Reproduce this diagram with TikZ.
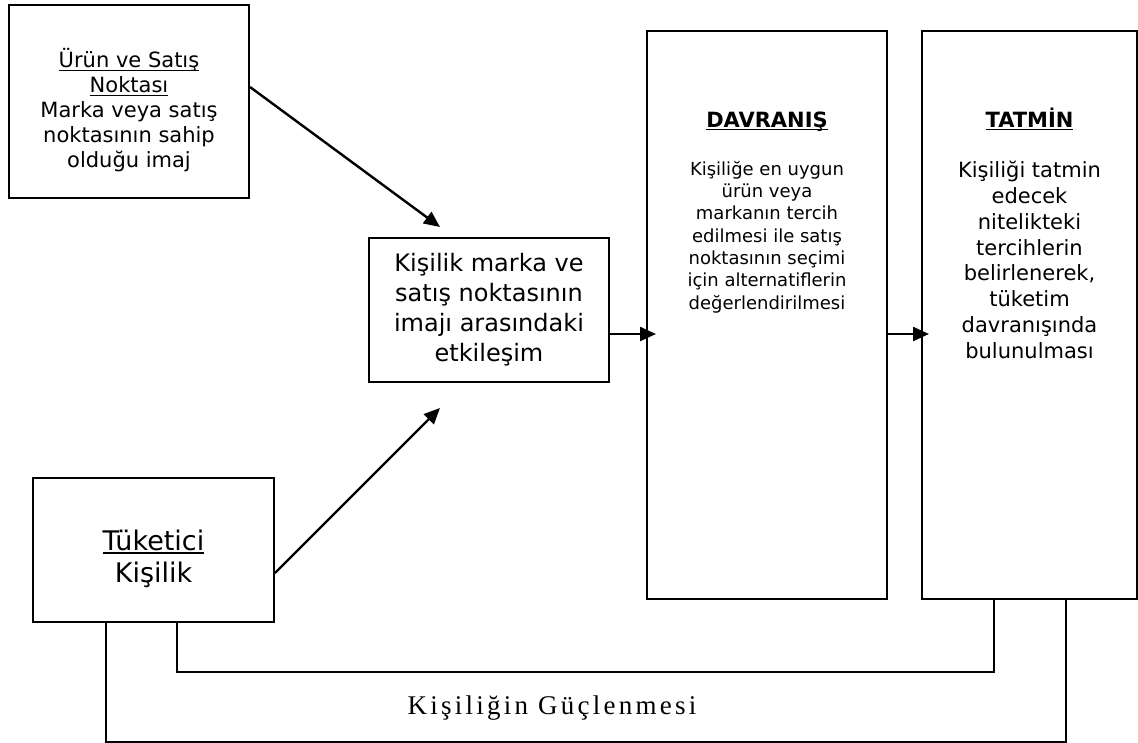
\documentclass[tikz,border=0pt]{standalone}
\usepackage{fontspec}
\setmainfont{DejaVu Sans}
\newfontfamily\loopfont[LetterSpace=12]{Liberation Serif}
\usetikzlibrary{arrows.meta, positioning, calc}

% underline at a fixed depth below the baseline
\newcommand{\ulin}[1]{\leavevmode\setbox0=\hbox{#1}\rlap{\rule[-3.2pt]{\wd0}{1.5pt}}\box0}

\begin{document}
\begin{tikzpicture}[x=1pt, y=-1pt,
    box/.style={draw=black, line width=2pt, fill=white, rectangle, inner sep=0pt},
    txt/.style={align=center, inner sep=0pt},
    flow/.style={->, line width=2.4pt},
    loopline/.style={line width=2pt},
    >={Triangle[length=16pt, width=14pt]}]
    \useasboundingbox (0,0) rectangle (1138,742);

    % Boxes on the left and in the middle
    \node[box, minimum width=240pt, minimum height=193pt] (prod) at (129,101.5) {};
    \node[txt, font=\fontsize{21}{25}\selectfont] (prodtxt) at ([yshift=-9pt]prod.center)
        {\ulin{Ürün ve Satış}\\\ulin{Noktası}\\Marka veya satış\\noktasının sahip\\olduğu imaj};
    \node[box, align=center, minimum width=240pt, minimum height=144pt, font=\fontsize{24}{30}\selectfont] (inter) at (489,310)
        {Kişilik marka ve\\satış noktasının\\imajı arasındaki\\etkileşim};
    \node[box, minimum width=241pt, minimum height=144pt] (cons) at (153.5,550) {};
    \node[txt, font=\fontsize{27}{32}\selectfont] (constxt) at ([yshift=-9pt]cons.center)
        {\ulin{Tüketici}\\Kişilik};

    % Tall boxes on the right
    \node[box, minimum width=240pt, minimum height=568pt] (behav) at (767,315) {};
    \node[box, minimum width=215pt, minimum height=568pt] (sat) at (1029.5,315) {};

    \node[font=\fontsize{21}{25}\selectfont\bfseries, anchor=base] (behavhead) at ([yshift=-97pt]behav.north) {\ulin{DAVRANIŞ}};
    \node[txt, font=\fontsize{18}{22.3}\selectfont, anchor=north] (behavtxt) at ([yshift=-131pt]behav.north)
        {Kişiliğe en uygun\\ürün veya\\markanın tercih\\edilmesi ile satış\\noktasının seçimi\\için alternatiflerin\\değerlendirilmesi};
    \node[font=\fontsize{21}{25}\selectfont\bfseries, anchor=base] (sathead) at ([yshift=-97pt]sat.north) {\ulin{TATMİN}};
    \node[txt, font=\fontsize{21}{25.8}\selectfont, anchor=north] (sattxt) at ([yshift=-131pt]sat.north)
        {Kişiliği tatmin\\edecek\\nitelikteki\\tercihlerin\\belirlenerek,\\tüketim\\davranışında\\bulunulması};

    % Arrows
    \draw[flow] ([yshift=14.5pt]prod.east) -- ([xshift=-49pt, yshift=10pt]inter.north);
    \draw[flow] ([yshift=-23pt]cons.east) -- ([xshift=-49pt, yshift=-25pt]inter.south);
    \draw[flow] ([yshift=-24pt]inter.east) -- ([xshift=10pt, yshift=-19pt]behav.west);
    \draw[flow] ([yshift=-19pt]behav.east) -- ([xshift=8pt, yshift=-19pt]sat.west);

    % Feedback lines
    \draw[loopline] ([xshift=23.5pt]cons.south) |- ([xshift=-35.5pt, yshift=-72pt]sat.south) -- ([xshift=-35.5pt]sat.south);
    \draw[loopline] ([xshift=-47.5pt]cons.south) |- ([xshift=36.5pt, yshift=-142pt]sat.south) -- ([xshift=36.5pt]sat.south);
    \node[font={\fontsize{27}{32}\loopfont}] (gain) at (552,708) {Kişiliğin Güçlenmesi};
\end{tikzpicture}
\end{document}
